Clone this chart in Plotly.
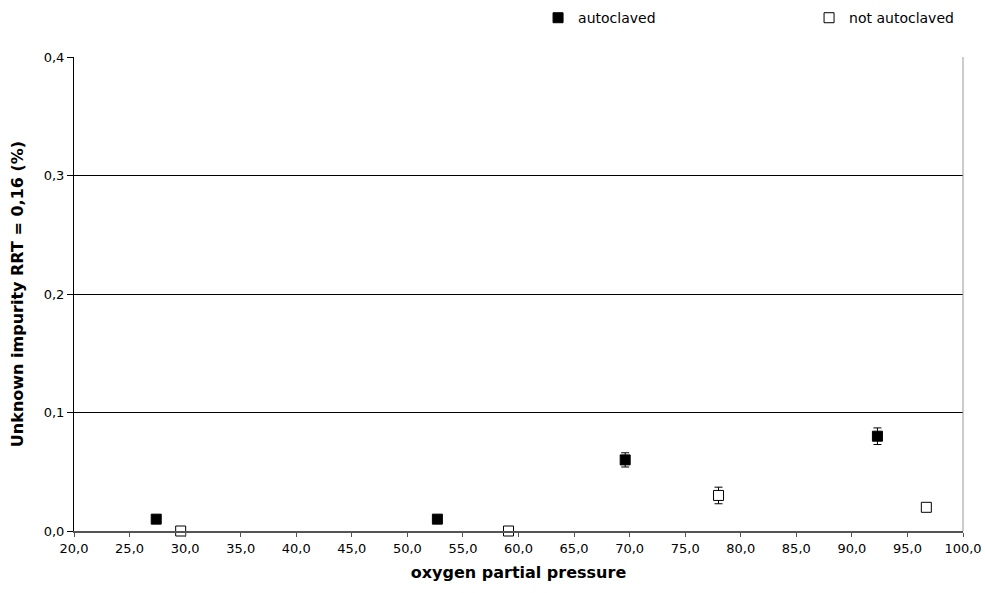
import plotly.graph_objects as go

# Data
auto_x = [27.4, 52.7, 69.6, 92.3]
auto_y = [0.01, 0.01, 0.06, 0.08]
auto_err = [0.0, 0.0, 0.006, 0.007]

nauto_x = [29.6, 59.1, 78.0, 96.7]
nauto_y = [0.0, 0.0, 0.03, 0.02]
nauto_err = [0.0, 0.0, 0.007, 0.0]

x_ticks = [20 + 5 * i for i in range(17)]
y_ticks = [0.0, 0.1, 0.2, 0.3, 0.4]

FONT = "DejaVu Sans, Arial, sans-serif"

fig = go.Figure()
fig.add_trace(go.Scatter(
    x=auto_x, y=auto_y, mode="markers", name="autoclaved", cliponaxis=False,
    marker=dict(symbol="square", size=10, color="black", line=dict(color="black", width=1)),
    error_y=dict(type="data", array=auto_err, visible=True, color="black", thickness=1, width=4),
))
fig.add_trace(go.Scatter(
    x=nauto_x, y=nauto_y, mode="markers", name="not autoclaved", cliponaxis=False,
    marker=dict(symbol="square", size=10, color="white", line=dict(color="black", width=1)),
    error_y=dict(type="data", array=nauto_err, visible=True, color="black", thickness=1, width=4),
))

fig.update_layout(
    width=985, height=593,
    margin=dict(l=74, r=22, t=57, b=62, autoexpand=False),
    paper_bgcolor="white", plot_bgcolor="white",
    separators=",.",
    font=dict(family=FONT, size=13, color="black"),
    showlegend=True,
    legend=dict(
        orientation="h", x=0.522, y=1.082, xanchor="left", yanchor="middle",
        entrywidth=226, entrywidthmode="pixels", itemwidth=30,
        font=dict(size=14, family=FONT), bgcolor="rgba(0,0,0,0)",
    ),
    xaxis=dict(
        range=[20, 100], tickvals=x_ticks, tickformat=".1f",
        showgrid=False, zeroline=False,
        showline=True, linecolor="#555555", linewidth=2,
        ticks="outside", ticklen=4, tickcolor="#555555",
        tickfont=dict(size=13, family=FONT),
        ticklabeloverflow="allow",
        title=dict(text="<b>oxygen partial pressure</b>", font=dict(size=16, family=FONT), standoff=12),
    ),
    yaxis=dict(
        range=[0, 0.4], tickvals=y_ticks, tickformat=".1f",
        showgrid=True, gridcolor="black", gridwidth=1,
        zeroline=False,
        showline=True, linecolor="black", linewidth=1,
        ticks="outside", ticklen=6, tickcolor="black",
        tickfont=dict(size=13, family=FONT),
        title=dict(text="<b>Unknown impurity RRT = 0,16 (%)</b>", font=dict(size=16, family=FONT), standoff=16),
    ),
)

# right border of plot area
fig.add_shape(type="line", xref="paper", yref="paper", x0=1, x1=1, y0=0, y1=1,
              line=dict(color="#999999", width=1))

fig.write_html("out.html", config={"displayModeBar": False},
               post_script="document.body.style.margin='0';")
